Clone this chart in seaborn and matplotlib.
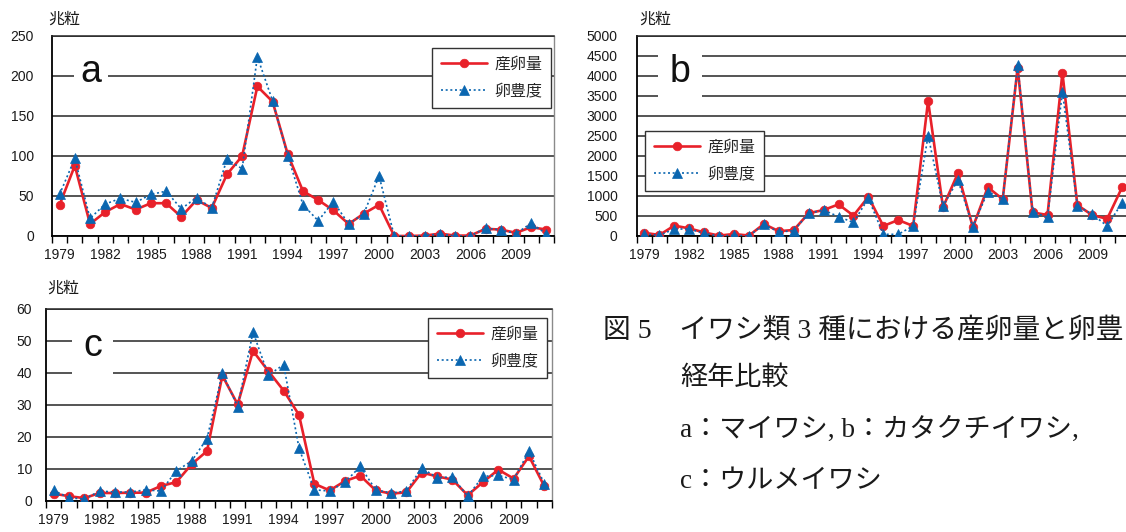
import matplotlib
matplotlib.use("Agg")
import matplotlib.pyplot as plt
import seaborn as sns
import numpy as np
import pandas as pd

# Survey years (one category per year)
years = list(range(1979, 2012))

# a: マイワシ (兆粒)
a_egg = [39, 88, 15, 30, 40, 33, 41, 41, 24, 45,
         35, 77, 100, 187, 168, 102, 56, 45, 32, 15,
         28, 39, 0, 0, 0.5, 3, 0.5, 0.5, 9, 8,
         4, 11, 8]
a_abund = [52, 97, 22, 40, 47, 42, 52, 56, 34, 48,
           35, 96, 84, 224, 169, 100, 39, 19, 43, 15,
           28, 75, 0, 0, 0.5, 2.5, 0, 0, 10, 7.5,
           3, 16, 2.5]

# b: カタクチイワシ (兆粒)
b_egg = [80, 25, 260, 190, 90, 10, 50, 10, 300, 120,
         150, 570, 650, 790, 510, 980, 250, 400, 250, 3380,
         720, 1570, 220, 1220, 920, 4210, 590, 525, 4080, 775,
         520, 430, 1220]
b_abund = [50, 17, 175, 175, 67, 0, 17, 0, 292, 100,
           133, 567, 650, 483, 340, 942, 42, 42, 250, 2510,
           750, 1400, 233, 1108, 925, 4275, 608, 467, 3608, 758,
           542, 250, 833]

# c: ウルメイワシ (兆粒)
c_egg = [2.3, 1.5, 0.9, 2.5, 2.5, 2.6, 2.6, 4.7, 5.9, 11.5,
         15.6, 39.2, 30.2, 46.9, 40.6, 34.5, 26.9, 5.4, 3.3, 6.25,
         7.9, 3.3, 2.3, 2.7, 8.9, 7.7, 6.7, 1.8, 5.9, 9.8,
         7.0, 14.0, 4.6]
c_abund = [3.3, 1.0, 0.6, 3.1, 2.8, 2.8, 3.5, 3.1, 9.4, 12.5,
           19.5, 39.9, 29.5, 52.8, 39.3, 42.6, 16.5, 3.5, 3.1, 5.9,
           10.8, 3.5, 2.5, 3.1, 10.3, 7.3, 7.5, 1.5, 7.7, 8.0,
           6.7, 15.6, 5.4]

series_names = ["産卵量", "卵豊度"]
year_ticks = list(range(1979, 2010, 3))
unit_label = "兆粒"
caption_lines = [
    "図 5　イワシ類 3 種における産卵量と卵豊",
    "経年比較",
    "a：マイワシ, b：カタクチイワシ,",
    "c：ウルメイワシ",
]

sns.set_theme(style="white")
plt.rcParams["font.family"] = ["Liberation Sans", "Noto Sans CJK JP"]

RED = "#E8212A"
BLUE = "#0A66B0"
GRID = "#262626"

W, H = 1126, 532
fig = plt.figure(figsize=(W / 100, H / 100), dpi=100)


def px_rect(left, top, right, bottom):
    return [left / W, 1 - bottom / H, (right - left) / W, (bottom - top) / H]


def panel(rect, egg, abund, ymax, ystep, letter, letter_xy, letter_pad,
          leg_anchor, ytick_pad):
    ax = fig.add_axes(rect)
    df = pd.DataFrame({"year": years, series_names[0]: egg,
                       series_names[1]: abund})
    sns.lineplot(data=df, x="year", y=series_names[0], ax=ax, color=RED,
                 linewidth=1.9, marker="o", markersize=6.2,
                 markeredgecolor=RED, markeredgewidth=0.5,
                 label=series_names[0], zorder=3)
    sns.lineplot(data=df, x="year", y=series_names[1], ax=ax, color=BLUE,
                 linewidth=1.2, linestyle=(0, (1.2, 1.6)), marker="^",
                 markersize=7.2, markeredgecolor=BLUE, markeredgewidth=0.5,
                 label=series_names[1], zorder=4)

    ax.set_xlim(1978.5, 2011.5)
    ax.set_ylim(0, ymax)
    ax.set_xlabel("")
    ax.set_ylabel("")
    ax.set_yticks(np.arange(0, ymax + ystep / 2, ystep))
    ax.set_xticks(year_ticks)
    ax.set_xticklabels([str(y) for y in year_ticks])
    ax.set_xticks(np.arange(1978.5, 2012, 1), minor=True)
    ax.tick_params(axis="x", which="major", length=0, pad=8.5, labelsize=10,
                   colors="#1a1a1a")
    ax.tick_params(axis="x", which="minor", bottom=True, length=5, width=1,
                   color="black", direction="out")
    ax.tick_params(axis="y", which="both", left=False, length=0,
                   pad=ytick_pad, labelsize=10, colors="#1a1a1a")

    ax.yaxis.grid(True, color=GRID, linewidth=1.1)
    ax.xaxis.grid(False)
    ax.set_axisbelow(True)

    for side in ("left", "bottom"):
        ax.spines[side].set_color("black")
        ax.spines[side].set_linewidth(1.3)
    ax.spines["top"].set_color(GRID)
    ax.spines["top"].set_linewidth(1.1)
    ax.spines["right"].set_color("#8a8a8a")
    ax.spines["right"].set_linewidth(1.0)

    ax.text(letter_xy[0], letter_xy[1], letter, transform=ax.transAxes,
            ha="center", va="baseline", fontsize=27, color="#111111",
            family="Liberation Sans",
            bbox=dict(boxstyle=f"square,pad={letter_pad}", fc="white",
                      ec="none"), zorder=2.6)

    leg = ax.legend(loc="upper left", bbox_to_anchor=leg_anchor,
                    borderaxespad=0, frameon=True, fancybox=False,
                    edgecolor="#333333", framealpha=1, fontsize=11.5,
                    handlelength=2.9, handletextpad=0.45, borderpad=0.55,
                    labelspacing=0.75)
    leg.get_frame().set_linewidth(1.0)
    leg.set_zorder(6)
    return ax


panel(px_rect(52, 36, 554, 236), a_egg, a_abund, 250, 50, "a",
      (0.078, 0.77), 0.17, (0.757, 0.94), 13)
panel(px_rect(637, 36, 1129.6, 236), b_egg, b_abund, 5000, 500, "b",
      (0.087, 0.77), 0.3, (0.016, 0.525), 14)
panel(px_rect(46, 309, 552, 501), c_egg, c_abund, 60, 10, "c",
      (0.092, 0.755), 0.3, (0.755, 0.953), 10)

# unit labels above each value axis
for x, y in [(64, 19), (655, 19), (63, 288)]:
    fig.text(x / W, 1 - y / H, unit_label, ha="center", va="center",
             fontsize=11.5, color="#1a1a1a")

# figure caption
caption_font = ["Liberation Serif", "Noto Sans CJK JP"]
fig.text(603 / W, 1 - 330 / H, caption_lines[0], ha="left", va="center",
         fontsize=20, family=caption_font, color="#1a1a1a")
for text, y in zip(caption_lines[1:], [378, 430, 481]):
    fig.text(680 / W, 1 - y / H, text, ha="left", va="center",
             fontsize=19.5, family=caption_font, color="#1a1a1a")

fig.savefig("out.png", dpi=100, facecolor="white")
